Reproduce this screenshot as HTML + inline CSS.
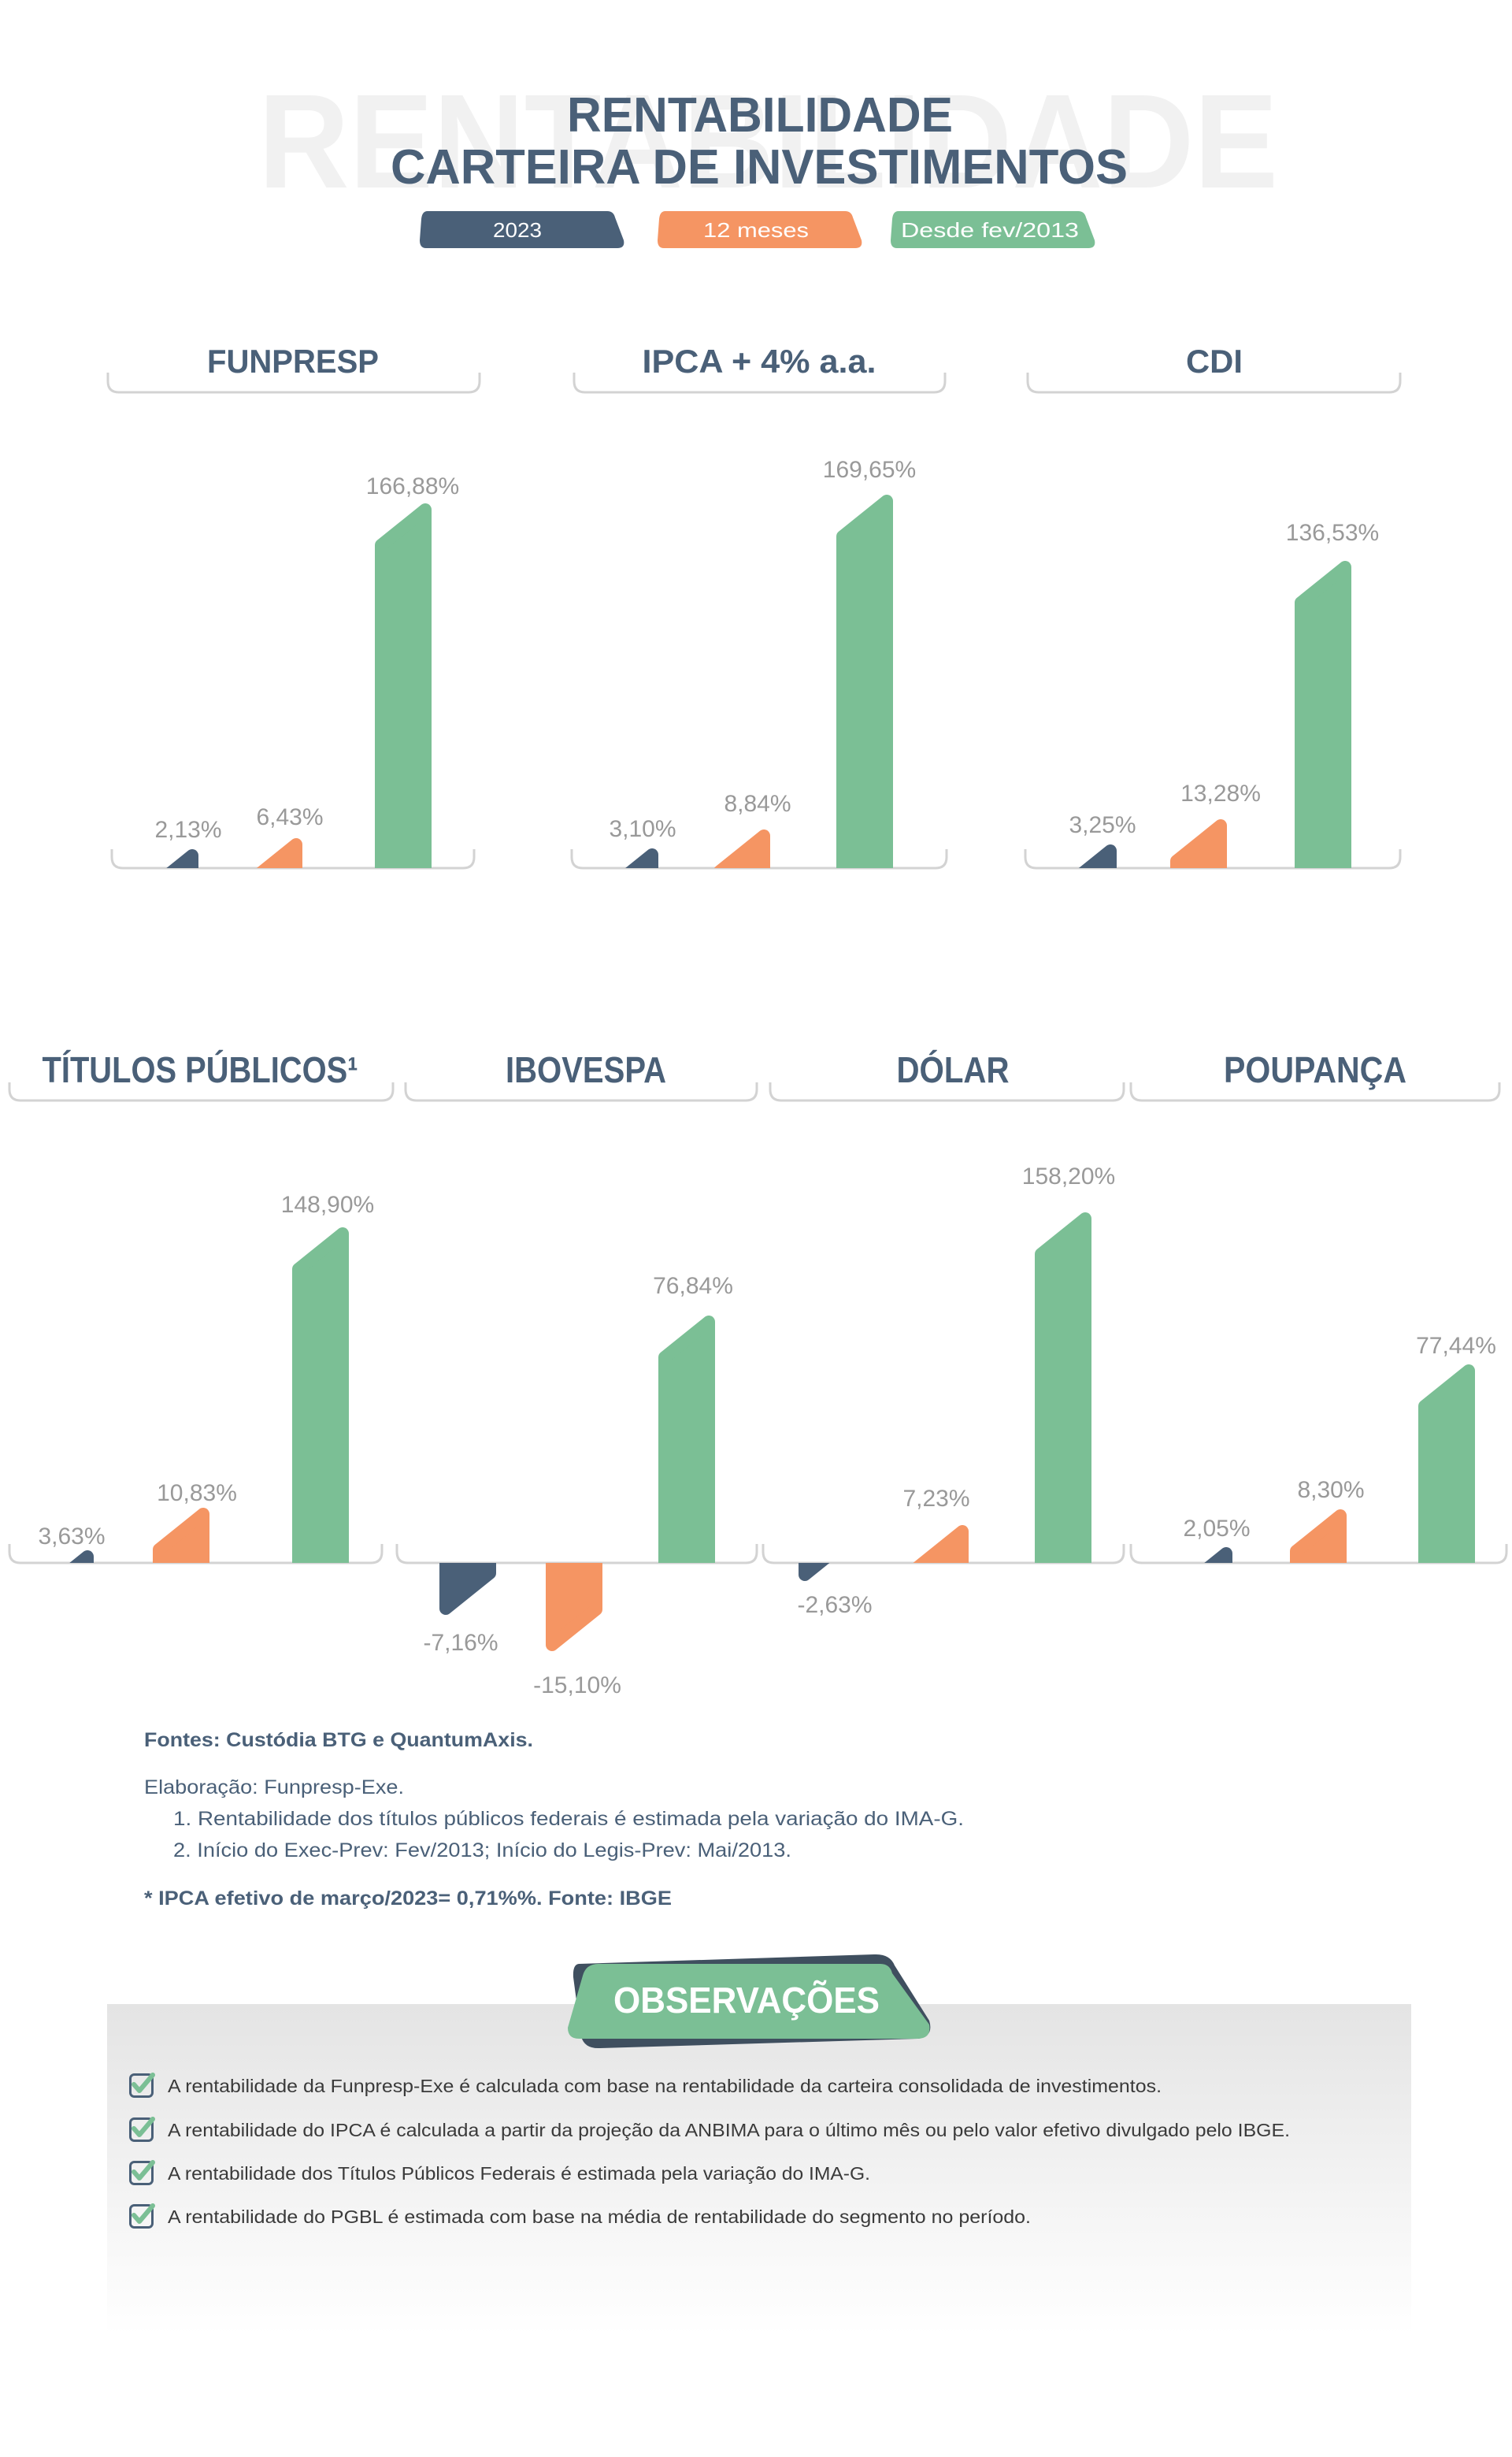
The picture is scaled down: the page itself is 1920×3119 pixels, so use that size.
<!DOCTYPE html>
<html><head><meta charset="utf-8"><style>
html,body{margin:0;padding:0;background:#fff;}
svg{display:block;}
text{font-family:"Liberation Sans",sans-serif;}
</style></head><body>
<svg width="1920" height="3119" viewBox="0 0 1920 3119" xmlns="http://www.w3.org/2000/svg">
<defs>
<clipPath id="c1p"><rect x="0" y="0" width="1920" height="1102"/></clipPath>
<clipPath id="c2p"><rect x="0" y="1200" width="1920" height="784"/></clipPath>
<clipPath id="c2n"><rect x="0" y="1984" width="1920" height="300"/></clipPath>
<linearGradient id="gb" x1="0" y1="0" x2="0" y2="1"><stop offset="0" stop-color="#e4e4e4"/><stop offset="1" stop-color="#ffffff"/></linearGradient>
</defs>

<text x="328" y="238" font-size="170" font-weight="bold" fill="#f1f1f1" textLength="1295" lengthAdjust="spacingAndGlyphs">RENTABILIDADE</text>
<text x="720" y="167" font-size="62" font-weight="bold" fill="#4a6078" textLength="490" lengthAdjust="spacingAndGlyphs">RENTABILIDADE</text>
<text x="496" y="233" font-size="62" font-weight="bold" fill="#4a6078" textLength="936" lengthAdjust="spacingAndGlyphs">CARTEIRA DE INVESTIMENTOS</text>

<g>
<path d="M543,268 L771,268 Q779,268 781,276 L792,305 Q794,315 784,315 L541,315 Q533,315 533,305 L535,278 Q536,268 543,268 Z" fill="#4a6078"/>
<text x="657" y="301" font-size="26" fill="#fff" text-anchor="middle" textLength="62" lengthAdjust="spacingAndGlyphs">2023</text>
<path d="M845,268 L1073,268 Q1081,268 1083,276 L1094,305 Q1096,315 1086,315 L843,315 Q835,315 835,305 L837,278 Q838,268 845,268 Z" fill="#f59563"/>
<text x="960" y="301" font-size="26" fill="#fff" text-anchor="middle" textLength="134" lengthAdjust="spacingAndGlyphs">12 meses</text>
<path d="M1141,268 L1369,268 Q1377,268 1379,276 L1390,305 Q1392,315 1382,315 L1139,315 Q1131,315 1131,305 L1133,278 Q1134,268 1141,268 Z" fill="#7bbf95"/>
<text x="1257" y="301" font-size="26" fill="#fff" text-anchor="middle" textLength="226" lengthAdjust="spacingAndGlyphs">Desde fev/2013</text>
</g>

<g fill="none" stroke="#d3d3d3" stroke-width="3">
<path d="M137,473 L137,484 Q137,498 151,498 L595,498 Q609,498 609,484 L609,473"/>
<path d="M729,473 L729,484 Q729,498 743,498 L1186,498 Q1200,498 1200,484 L1200,473"/>
<path d="M1305,473 L1305,484 Q1305,498 1319,498 L1764,498 Q1778,498 1778,484 L1778,473"/>
<path d="M142,1078 L142,1088 Q142,1102 156,1102 L588,1102 Q602,1102 602,1088 L602,1078"/>
<path d="M726,1078 L726,1088 Q726,1102 740,1102 L1188,1102 Q1202,1102 1202,1088 L1202,1078"/>
<path d="M1302,1078 L1302,1088 Q1302,1102 1316,1102 L1764,1102 Q1778,1102 1778,1088 L1778,1078"/>
<path d="M12,1374 L12,1383 Q12,1397 26,1397 L485,1397 Q499,1397 499,1383 L499,1374"/>
<path d="M515,1374 L515,1383 Q515,1397 529,1397 L947,1397 Q961,1397 961,1383 L961,1374"/>
<path d="M978,1374 L978,1383 Q978,1397 992,1397 L1413,1397 Q1427,1397 1427,1383 L1427,1374"/>
<path d="M1436,1374 L1436,1383 Q1436,1397 1450,1397 L1890,1397 Q1904,1397 1904,1383 L1904,1374"/>
<path d="M12,1960 L12,1970 Q12,1984 26,1984 L471,1984 Q485,1984 485,1970 L485,1960"/>
<path d="M504,1960 L504,1970 Q504,1984 518,1984 L947,1984 Q961,1984 961,1970 L961,1960"/>
<path d="M969,1960 L969,1970 Q969,1984 983,1984 L1413,1984 Q1427,1984 1427,1970 L1427,1960"/>
<path d="M1436,1960 L1436,1970 Q1436,1984 1450,1984 L1899,1984 Q1913,1984 1913,1970 L1913,1960"/>
</g>

<g font-weight="bold" fill="#4a6078" text-anchor="middle">
<text x="372" y="473" font-size="42" textLength="218" lengthAdjust="spacingAndGlyphs">FUNPRESP</text>
<text x="964" y="473" font-size="42" textLength="297" lengthAdjust="spacingAndGlyphs">IPCA + 4% a.a.</text>
<text x="1542" y="473" font-size="42" textLength="72" lengthAdjust="spacingAndGlyphs">CDI</text>
<text x="254" y="1374" font-size="46" textLength="401" lengthAdjust="spacingAndGlyphs">TÍTULOS PÚBLICOS¹</text>
<text x="744" y="1374" font-size="46" textLength="204" lengthAdjust="spacingAndGlyphs">IBOVESPA</text>
<text x="1210" y="1374" font-size="46" textLength="143" lengthAdjust="spacingAndGlyphs">DÓLAR</text>
<text x="1670" y="1374" font-size="46" textLength="232" lengthAdjust="spacingAndGlyphs">POUPANÇA</text>
</g>

<g clip-path="url(#c1p)" stroke-width="16" stroke-linejoin="round">
<path d="M188,1162 L188,1131 L244,1086 L244,1162 Z" fill="#4a6078" stroke="#4a6078"/>
<path d="M320,1162 L320,1117 L376,1072 L376,1162 Z" fill="#f59563" stroke="#f59563"/>
<path d="M484,1162 L484,692 L540,647 L540,1162 Z" fill="#7bbf95" stroke="#7bbf95"/>
<path d="M772,1162 L772,1130 L828,1085 L828,1162 Z" fill="#4a6078" stroke="#4a6078"/>
<path d="M914,1162 L914,1106 L970,1061 L970,1162 Z" fill="#f59563" stroke="#f59563"/>
<path d="M1070,1162 L1070,681 L1126,636 L1126,1162 Z" fill="#7bbf95" stroke="#7bbf95"/>
<path d="M1354,1162 L1354,1125 L1410,1080 L1410,1162 Z" fill="#4a6078" stroke="#4a6078"/>
<path d="M1494,1162 L1494,1093 L1550,1048 L1550,1162 Z" fill="#f59563" stroke="#f59563"/>
<path d="M1652,1162 L1652,765 L1708,720 L1708,1162 Z" fill="#7bbf95" stroke="#7bbf95"/>
</g>

<g clip-path="url(#c2p)" stroke-width="16" stroke-linejoin="round">
<path d="M55,2044 L55,2021 L111,1976 L111,2044 Z" fill="#4a6078" stroke="#4a6078"/>
<path d="M202,2044 L202,1967 L258,1922 L258,2044 Z" fill="#f59563" stroke="#f59563"/>
<path d="M379,2044 L379,1611 L435,1566 L435,2044 Z" fill="#7bbf95" stroke="#7bbf95"/>
<path d="M844,2044 L844,1723 L900,1678 L900,2044 Z" fill="#7bbf95" stroke="#7bbf95"/>
<path d="M1166,2044 L1166,1989 L1222,1944 L1222,2044 Z" fill="#f59563" stroke="#f59563"/>
<path d="M1322,2044 L1322,1592 L1378,1547 L1378,2044 Z" fill="#7bbf95" stroke="#7bbf95"/>
<path d="M1501,2044 L1501,2017 L1557,1972 L1557,2044 Z" fill="#4a6078" stroke="#4a6078"/>
<path d="M1646,2044 L1646,1969 L1702,1924 L1702,2044 Z" fill="#f59563" stroke="#f59563"/>
<path d="M1809,2044 L1809,1785 L1865,1740 L1865,2044 Z" fill="#7bbf95" stroke="#7bbf95"/>
</g>
<g clip-path="url(#c2n)" stroke-width="16" stroke-linejoin="round">
<path d="M566,1924 L566,2042 L622,1997 L622,1924 Z" fill="#4a6078" stroke="#4a6078"/>
<path d="M701,1924 L701,2088 L757,2043 L757,1924 Z" fill="#f59563" stroke="#f59563"/>
<path d="M1022,1924 L1022,1999 L1078,1954 L1078,1924 Z" fill="#4a6078" stroke="#4a6078"/>
</g>

<g font-size="30" fill="#999999" text-anchor="middle">
<text x="239" y="1063">2,13%</text>
<text x="368" y="1047">6,43%</text>
<text x="524" y="627">166,88%</text>
<text x="816" y="1062">3,10%</text>
<text x="962" y="1030">8,84%</text>
<text x="1104" y="606">169,65%</text>
<text x="1400" y="1057">3,25%</text>
<text x="1550" y="1017">13,28%</text>
<text x="1692" y="686">136,53%</text>
<text x="91" y="1960">3,63%</text>
<text x="250" y="1905">10,83%</text>
<text x="416" y="1539">148,90%</text>
<text x="585" y="2095">-7,16%</text>
<text x="733" y="2149">-15,10%</text>
<text x="880" y="1642">76,84%</text>
<text x="1060" y="2047">-2,63%</text>
<text x="1189" y="1912">7,23%</text>
<text x="1357" y="1503">158,20%</text>
<text x="1545" y="1950">2,05%</text>
<text x="1690" y="1901">8,30%</text>
<text x="1849" y="1718">77,44%</text>
</g>

<g fill="#4a6078" font-size="25">
<text x="183" y="2217" textLength="494" lengthAdjust="spacingAndGlyphs"><tspan font-weight="bold">Fontes:</tspan> <tspan font-weight="bold">Custódia BTG e QuantumAxis.</tspan></text>
<text x="183" y="2277" textLength="330" lengthAdjust="spacingAndGlyphs">Elaboração: Funpresp-Exe.</text>
<text x="220" y="2317" textLength="1004" lengthAdjust="spacingAndGlyphs">1. Rentabilidade dos títulos públicos federais é estimada pela variação do IMA-G.</text>
<text x="220" y="2357" textLength="785" lengthAdjust="spacingAndGlyphs">2. Início do Exec-Prev: Fev/2013; Início do Legis-Prev: Mai/2013.</text>
<text x="183" y="2418" font-weight="bold" textLength="670" lengthAdjust="spacingAndGlyphs">* IPCA efetivo de março/2023= 0,71%%. Fonte: IBGE</text>
</g>

<rect x="136" y="2544" width="1656" height="420" fill="url(#gb)"/>
<path d="M735,2493 L1110,2481 Q1130,2480 1136,2495 L1180,2565 Q1186,2585 1166,2588 L762,2600 Q742,2601 738,2585 L728,2510 Q727,2494 735,2493 Z" fill="#3f4f5f"/>
<path d="M760,2493 L1118,2493 Q1130,2493 1133,2505 L1180,2570 Q1183,2588 1165,2588 L735,2588 Q721,2588 721,2574 L740,2508 Q744,2493 760,2493 Z" fill="#7bbf95"/>
<text x="779" y="2555" font-size="46" font-weight="bold" fill="#fff" textLength="338" lengthAdjust="spacingAndGlyphs">OBSERVAÇÕES</text>

<g fill="none">
<g transform="translate(164,2632)"><rect x="1.5" y="1.5" width="28" height="28" rx="5" stroke="#4a6078" stroke-width="3"/><path d="M6,14 L13,22 L30,2" stroke="#7bbf95" stroke-width="6" stroke-linecap="round" stroke-linejoin="round"/></g>
<g transform="translate(164,2688)"><rect x="1.5" y="1.5" width="28" height="28" rx="5" stroke="#4a6078" stroke-width="3"/><path d="M6,14 L13,22 L30,2" stroke="#7bbf95" stroke-width="6" stroke-linecap="round" stroke-linejoin="round"/></g>
<g transform="translate(164,2743)"><rect x="1.5" y="1.5" width="28" height="28" rx="5" stroke="#4a6078" stroke-width="3"/><path d="M6,14 L13,22 L30,2" stroke="#7bbf95" stroke-width="6" stroke-linecap="round" stroke-linejoin="round"/></g>
<g transform="translate(164,2798)"><rect x="1.5" y="1.5" width="28" height="28" rx="5" stroke="#4a6078" stroke-width="3"/><path d="M6,14 L13,22 L30,2" stroke="#7bbf95" stroke-width="6" stroke-linecap="round" stroke-linejoin="round"/></g>
</g>
<g fill="#3a3a3a" font-size="23">
<text x="213" y="2656" textLength="1262" lengthAdjust="spacingAndGlyphs">A rentabilidade da Funpresp-Exe é calculada com base na rentabilidade da carteira consolidada de investimentos.</text>
<text x="213" y="2712" textLength="1425" lengthAdjust="spacingAndGlyphs">A rentabilidade do IPCA é calculada a partir da projeção da ANBIMA para o último mês ou pelo valor efetivo divulgado pelo IBGE.</text>
<text x="213" y="2767" textLength="892" lengthAdjust="spacingAndGlyphs">A rentabilidade dos Títulos Públicos Federais é estimada pela variação do IMA-G.</text>
<text x="213" y="2822" textLength="1096" lengthAdjust="spacingAndGlyphs">A rentabilidade do PGBL é estimada com base na média de rentabilidade do segmento no período.</text>
</g>
</svg>
</body></html>
